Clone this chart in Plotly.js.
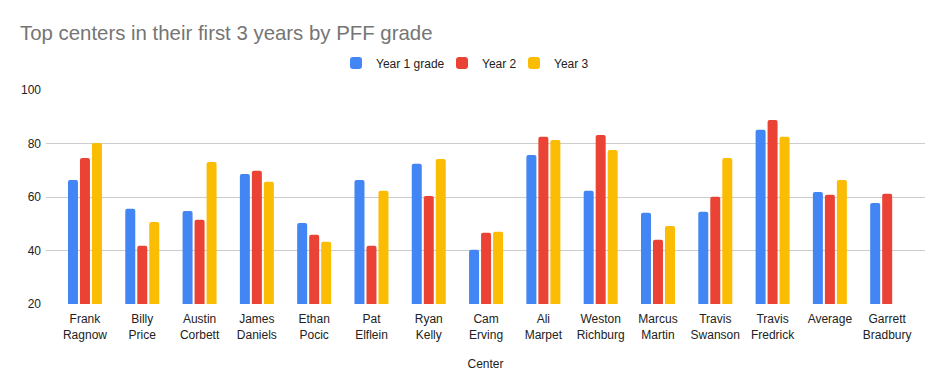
<!DOCTYPE html>
<html>
<head>
<meta charset="utf-8">
<script src="https://cdn.plot.ly/plotly-3.0.1.min.js"></script>
<style>html,body{margin:0;padding:0;background:#fff;}#chart{width:945px;height:390px;}</style>
</head>
<body>
<div id="chart"></div>
<script>
const categories = ["Frank Ragnow","Billy Price","Austin Corbett","James Daniels","Ethan Pocic","Pat Elflein","Ryan Kelly","Cam Erving","Ali Marpet","Weston Richburg","Marcus Martin","Travis Swanson","Travis Fredrick","Average","Garrett Bradbury"];
const year1 = [66.4, 55.6, 54.8, 68.6, 50.3, 66.4, 72.4, 40.3, 75.7, 62.3, 54.1, 54.5, 85.1, 61.9, 57.8];
const year2 = [74.6, 41.8, 51.5, 69.8, 45.9, 41.8, 60.4, 46.6, 82.5, 83.2, 44.0, 60.1, 88.8, 60.8, 61.2];
const year3 = [80.2, 50.7, 73.1, 65.7, 43.3, 62.3, 74.2, 47.0, 81.3, 77.6, 49.2, 74.6, 82.5, 66.4, null];
const seriesNames = ["Year 1 grade", "Year 2", "Year 3"];
const colors = ["#4285F4", "#EA4335", "#FBBC04"];
const yTicks = [20, 40, 60, 80, 100];

const xs = categories.map((c, i) => i);
const tickText = categories.map(c => c.replace(" ", "<br>"));
const FONT = "'Liberation Sans', Arial, sans-serif";
const legendIds = ["legend", "legend2", "legend3"];
const legendX = [336, 442, 514];

const traces = [year1, year2, year3].map((vals, k) => ({
  type: "bar",
  name: seriesNames[k],
  x: xs,
  y: vals,
  legend: legendIds[k],
  marker: { color: colors[k], cornerradius: 2 },
  hoverinfo: "none"
}));

const layout = {
  width: 945, height: 390,
  margin: { l: 46, r: 20, t: 90, b: 86 },
  paper_bgcolor: "#fff", plot_bgcolor: "#fff",
  font: { family: FONT, size: 12, color: "#222" },
  title: {
    text: "Top centers in their first 3 years by PFF grade",
    font: { size: 20.4, color: "#757575", family: FONT },
    x: 20 / 945, xref: "container", xanchor: "left",
    y: 1 - 33 / 390, yref: "container", yanchor: "middle"
  },
  barmode: "group",
  bargap: 0.372,
  bargroupgap: 0.167,
  showlegend: true,
  xaxis: {
    tickvals: xs, ticktext: tickText,
    range: [-0.68, 14.66],
    showgrid: false, zeroline: false, showline: false, ticks: "",
    tickfont: { size: 12, color: "#222", family: FONT },
    ticklabelstandoff: 6,
    title: { text: "Center", font: { size: 12, color: "#222", family: FONT }, standoff: 19 },
    fixedrange: true
  },
  yaxis: {
    range: [20, 100],
    tickvals: yTicks,
    showgrid: true, gridcolor: "#cccccc", gridwidth: 1,
    zeroline: false, showline: false, ticks: "",
    tickfont: { size: 12, color: "#222", family: FONT },
    ticklabelstandoff: 4,
    fixedrange: true
  }
};
legendIds.forEach((id, k) => {
  layout[id] = {
    orientation: "h", xref: "container", x: legendX[k] / 945, xanchor: "left",
    yref: "container", y: 1 - 63 / 390, yanchor: "middle",
    font: { size: 12, color: "#222", family: FONT },
    itemwidth: 30, bgcolor: "rgba(0,0,0,0)"
  };
});

Plotly.newPlot("chart", traces, layout, { displayModeBar: false, staticPlot: true });
</script>
</body>
</html>
